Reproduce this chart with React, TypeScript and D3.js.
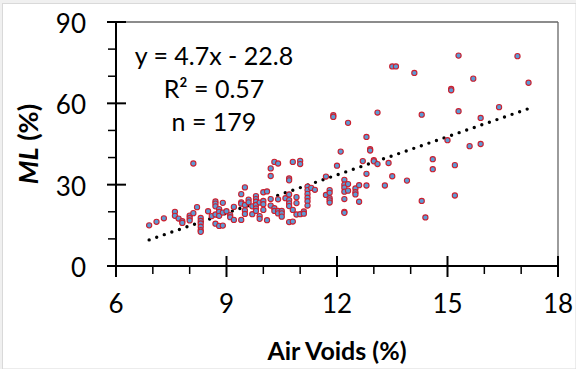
import React from "react";
import * as d3 from "d3";

const xTicks = [6, 9, 12, 15, 18];
const yTicks = [0, 30, 60, 90];
const xMinor = [7, 8, 10, 11, 13, 14, 16, 17];
const yMinor = [10, 20, 40, 50, 70, 80];

// Air voids (%) and ML (%)
const airVoids = [
  6.9, 7.1, 7.3, 7.6, 7.6, 7.7, 7.8, 7.8, 8.0, 8.0, 8.0, 8.1, 8.1, 8.2,
  8.3, 8.3, 8.3, 8.3, 8.3, 8.3, 8.5, 8.6,
  8.7, 8.7, 8.7, 8.7, 8.7, 8.8, 8.8, 8.8, 8.8, 8.9, 8.9, 8.9, 9.0,
  9.1, 9.1, 9.2, 9.2, 9.4, 9.4, 9.4, 9.4, 9.5, 9.5, 9.5, 9.5, 9.6, 9.6,
  9.7, 9.7, 9.8, 9.8, 9.8, 9.8, 9.8, 9.8, 9.9, 9.9, 9.9,
  10.0, 10.0, 10.0, 10.0, 10.1, 10.1, 10.2, 10.2, 10.2, 10.2,
  10.3, 10.3, 10.3, 10.4, 10.4, 10.4, 10.4, 10.5, 10.5, 10.5, 10.6,
  10.7, 10.7, 10.7, 10.7, 10.7, 10.7, 10.7, 10.8, 10.8, 10.8,
  10.9, 10.9, 10.9, 11.0, 11.0, 11.0, 11.1, 11.1,
  11.2, 11.2, 11.2, 11.2, 11.2, 11.2, 11.3, 11.4, 11.7, 11.7,
  11.8, 11.8, 11.8, 11.8, 11.8, 11.9, 11.9, 12.0, 12.1,
  12.2, 12.2, 12.2, 12.2, 12.2, 12.2, 12.2, 12.3, 12.3, 12.3,
  12.5, 12.5, 12.5, 12.6, 12.6, 12.7, 12.8, 12.8, 12.8, 12.9, 12.9,
  13.0, 13.0, 13.1, 13.1, 13.3, 13.4, 13.5, 13.5, 13.6, 13.9, 14.1,
  14.3, 14.3, 14.4, 14.6, 14.6, 15.0, 15.1, 15.1, 15.2, 15.2, 15.3, 15.3,
  15.6, 15.7, 15.9, 15.9, 16.4, 16.9, 17.2,
];
const mlValues = [
  15.0, 16.3, 17.6, 20.0, 18.5, 17.5, 16.5, 15.9, 18.6, 17.7, 16.8, 19.5, 37.8, 21.7,
  17.7, 16.6, 15.7, 14.5, 13.2, 12.6, 20.2, 18.4,
  23.8, 23.0, 22.0, 19.0, 15.6, 21.0, 20.0, 18.5, 14.8, 23.3, 19.7, 14.9, 20.2,
  18.8, 18.0, 21.8, 17.0, 26.5, 23.5, 23.0, 17.0, 29.0, 22.5, 20.5, 19.2, 24.5, 23.5,
  22.0, 19.1, 25.8, 24.7, 23.7, 22.5, 21.2, 20.3, 23.4, 18.4, 17.4,
  27.2, 24.0, 22.8, 20.7, 27.5, 16.9, 36.0, 33.2, 24.7, 22.3,
  38.4, 21.3, 20.3, 37.8, 24.6, 20.3, 19.4, 20.3, 19.4, 18.2, 25.0,
  32.3, 31.6, 26.4, 24.3, 23.1, 22.1, 16.2, 38.4, 20.7, 16.4,
  25.4, 23.2, 19.0, 38.8, 37.6, 19.1, 20.1, 19.3,
  29.3, 28.0, 26.6, 25.2, 23.9, 22.3, 28.8, 28.1, 33.0, 26.2,
  28.0, 27.0, 25.0, 24.2, 23.4, 55.6, 55.0, 37.0, 42.2,
  31.8, 30.0, 28.9, 27.4, 24.7, 20.0, 19.6, 30.2, 27.8, 52.8,
  28.6, 27.2, 26.4, 29.8, 23.7, 38.7, 47.6, 34.0, 29.7, 43.1, 42.6,
  39.0, 38.6, 56.6, 37.6, 29.7, 38.0, 73.6, 33.1, 73.6, 31.5, 71.2,
  55.8, 24.0, 17.9, 39.4, 35.7, 46.4, 65.3, 64.8, 37.2, 26.0, 77.6, 57.1,
  44.2, 69.1, 54.6, 45.0, 58.6, 77.4, 67.6,
];
const trendX = [6.9, 17.2];
const slope = 4.7;
const intercept = -22.8;
const equationLines = ["y = 4.7x - 22.8", "R² = 0.57", "n = 179"];
const xTitle = "Air Voids (%)";

const W = 576;
const H = 369;
const FONT = "Lato, 'Open Sans', sans-serif";

export default function App() {
  const x = d3.scaleLinear().domain([6, 18]).range([116, 558]);
  const y = d3.scaleLinear().domain([0, 90]).range([266, 22]);
  const trend = d3
    .line<number>()
    .x((d) => x(d))
    .y((d) => y(slope * d + intercept))(trendX) as string;
  const points = airVoids.map((v, i) => [v, mlValues[i]] as [number, number]);
  const [x0, x1] = x.range();
  const [y0, y1] = y.range();
  return (
    <svg
      width={W}
      height={H}
      style={{ position: "absolute", left: 0, top: 0 }}
      fontFamily={FONT}
    >
      <rect x={0} y={0} width={W} height={H} fill="#f0f0f0" />
      <rect x={2.5} y={3.5} width={W - 2.5} height={H - 3.5} fill="#ffffff" stroke="#d9d9d9" />
      {/* frame */}
      <line x1={x0} x2={x1} y1={y1} y2={y1} stroke="#666" strokeWidth={1.3} />
      <line x1={x1} x2={x1} y1={y1} y2={y0} stroke="#666" strokeWidth={1.3} />
      {/* trend line */}
      <path
        d={trend}
        fill="none"
        stroke="#000"
        strokeWidth={3.4}
        strokeDasharray="0 8"
        strokeLinecap="round"
      />
      {/* points */}
      {points.map(([a, b], i) => (
        <circle
          key={i}
          cx={x(a)}
          cy={y(b)}
          r={2.6}
          fill="#5b9bd5"
          stroke="#cc1f2e"
          strokeWidth={1.1}
        />
      ))}
      {/* axes */}
      <line x1={x0} x2={x1} y1={y0} y2={y0} stroke="#000" strokeWidth={2} />
      <line x1={x0} x2={x0} y1={y0} y2={y1} stroke="#000" strokeWidth={2} />
      {xTicks.map((t) => (
        <line key={"xt" + t} x1={x(t)} x2={x(t)} y1={y0 - 10} y2={y0 + 11} stroke="#000" strokeWidth={2} />
      ))}
      {xMinor.map((t) => (
        <line key={"xm" + t} x1={x(t)} x2={x(t)} y1={y0} y2={y0 + 8} stroke="#000" strokeWidth={1.5} />
      ))}
      {yTicks.map((t) => (
        <line key={"yt" + t} x1={x0 - 9} x2={x0 + 10} y1={y(t)} y2={y(t)} stroke="#000" strokeWidth={2} />
      ))}
      {yMinor.map((t) => (
        <line key={"ym" + t} x1={x0 - 8} x2={x0} y1={y(t)} y2={y(t)} stroke="#000" strokeWidth={1.5} />
      ))}
      {xTicks.map((t) => (
        <text key={"xl" + t} x={x(t)} y={313} textAnchor="middle" fontSize={26} fill="#000">
          {t}
        </text>
      ))}
      {yTicks.map((t) => (
        <text key={"yl" + t} x={86} y={y(t) + 11} textAnchor="end" fontSize={26} fill="#000">
          {t}
        </text>
      ))}
      {/* equation */}
      {equationLines.map((s, i) => (
        <text key={"eq" + i} x={214} y={65 + i * 33} textAnchor="middle" fontSize={25} fill="#000">
          {s}
        </text>
      ))}
      {/* titles */}
      <text x={337} y={360} textAnchor="middle" fontSize={25} fontWeight="bold" fill="#000">
        {xTitle}
      </text>
      <text
        transform={`translate(38,${(y0 + y1) / 2}) rotate(-90)`}
        textAnchor="middle"
        fontSize={27}
        fontWeight="bold"
        fill="#000"
      >
        <tspan fontStyle="italic">ML</tspan>
        <tspan> (%)</tspan>
      </text>
    </svg>
  );
}
